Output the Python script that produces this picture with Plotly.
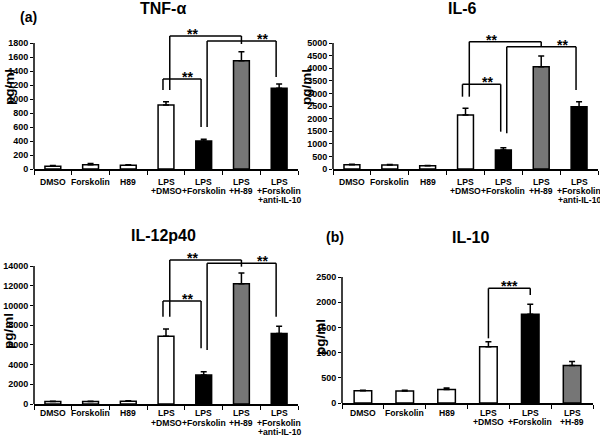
import plotly.graph_objects as go

W, H = 600, 438

# ---------------- data ----------------
cats_a = ["DMSO", "Forskolin", "H89", "LPS<br>+DMSO", "LPS<br>+Forskolin", "LPS<br>+H-89",
          "LPS<br>+Forskolin<br>+anti-IL-10"]
cats_b = ["DMSO", "Forskolin", "H89", "LPS<br>+DMSO", "LPS<br>+Forskolin", "LPS<br>+H-89"]

tnf_vals = [40, 60, 55, 914, 400, 1548, 1153]
tnf_err = [10, 20, 5, 48, 24, 128, 61]
il6_vals = [170, 160, 130, 2143, 754, 4061, 2474]
il6_err = [20, 15, 10, 264, 93, 423, 198]
il12_vals = [250, 250, 280, 6880, 2935, 12210, 7150]
il12_err = [30, 30, 60, 740, 335, 1080, 750]
il10_vals = [243, 240, 270, 1118, 1763, 743]
il10_err = [12, 12, 28, 99, 197, 79]

colors_a = ["white", "white", "white", "white", "black", "#767676", "black"]
colors_b = ["white", "white", "white", "white", "black", "#767676"]

titles = ["TNF-α", "IL-6", "IL-12p40", "IL-10"]
tick_max = [1800, 5000, 14000, 2500]
tick_step = [200, 500, 2000, 500]

# brackets: (left cat, left offset, left bottom, top, right cat, right offset, right bottom, label, label pos)
br_tnf = [(3, 0.10, 1129, 1900, 5, 0.0, 1786, "**", 3.69),
          (4, 0.09, 600, 1829, 6, -0.08, 1314, "**", 5.55),
          (3, -0.08, 1129, 1286, 4, -0.07, 600, "**", 3.58)]
br_il6 = [(3, 0.10, 2869, 5053, 5, 0.0, 4854, "**", 3.69),
          (4, 0.09, 1415, 4854, 6, -0.08, 3135, "**", 5.55),
          (3, -0.08, 2869, 3360, 4, -0.07, 1481, "**", 3.57)]
br_il12 = [(3, 0.10, 8858, 14609, 5, 0.0, 13930, "**", 3.69),
           (4, 0.09, 5478, 14271, 6, -0.08, 8858, "**", 5.55),
           (3, -0.08, 8858, 10449, 4, -0.07, 5650, "**", 3.57)]
br_il10 = [(3, 0.0, 1283, 2275, 4, 0.0, 2143, "***", 3.5)]

# ---------------- layout geometry (pixels) ----------------
# x_left, x_right, y_zero_px, y_maxtick_px, y_top_px, label line y positions
geom = [(34, 298, 169, 43, 26, (182, 191, 200)),
        (333, 598, 169, 43, 26, (182, 191, 200)),
        (34, 298, 404, 266, 250, (413, 422.5, 432)),
        (342, 593, 403, 277, 272, (413, 422, 431))]

panels = [(cats_a, tnf_vals, tnf_err, colors_a, br_tnf),
          (cats_a, il6_vals, il6_err, colors_a, br_il6),
          (cats_a, il12_vals, il12_err, colors_a, br_il12),
          (cats_b, il10_vals, il10_err, colors_b, br_il10)]

FONT = "Liberation Sans, Arial, sans-serif"
fig = go.Figure()
shapes, annos = [], []

for i, ((cats, vals, err, cols, brs), (xl, xr, y0, yt, ytop, lines_y)) in enumerate(zip(panels, geom)):
    n = i + 1
    xa = "x" if n == 1 else f"x{n}"
    ya = "y" if n == 1 else f"y{n}"
    fig.add_trace(go.Bar(
        x=cats, y=vals, xaxis=xa, yaxis=ya, width=0.42,
        marker=dict(color=cols, line=dict(color="black", width=1.5)),
        error_y=dict(type="data", array=err, arrayminus=[0] * len(err), symmetric=False,
                     color="black", thickness=1.5, width=3),
        showlegend=False))
    ymax = tick_max[i]
    rmax = ymax * (y0 - ytop) / (y0 - yt)
    xkey = "xaxis" if n == 1 else f"xaxis{n}"
    ykey = "yaxis" if n == 1 else f"yaxis{n}"
    fig.update_layout(**{
        xkey: dict(domain=[xl / W, xr / W], anchor=ya, type="category", automargin=False,
                   categoryorder="array", categoryarray=cats,
                   range=[-0.5, len(cats) - 0.5], showticklabels=False,
                   showline=True, linecolor="black", linewidth=1.5,
                   ticks="outside", tickson="boundaries", ticklen=4, tickcolor="black",
                   tickwidth=1, showgrid=False),
        ykey: dict(domain=[1 - y0 / H, 1 - ytop / H], anchor=xa, automargin=False,
                   range=[0, rmax], showline=False, showgrid=False, zeroline=False,
                   tickvals=list(range(0, ymax + 1, tick_step[i])), tickformat="d",
                   ticks="outside", ticklen=3, tickcolor="black", tickwidth=1,
                   tickfont=dict(family=FONT, size=9, color="black", weight="bold")),
    })
    # category labels, one text per line
    for ci, c in enumerate(cats):
        for li, part in enumerate(c.split("<br>")):
            annos.append(dict(xref=xa, yref="paper", x=ci, y=1 - lines_y[li] / H, text=part,
                              showarrow=False, xanchor="center", yanchor="middle",
                              font=dict(family=FONT, size=8.6, color="black", weight="bold")))
    # y-axis line only up to max tick
    shapes.append(dict(type="line", xref=f"{xa} domain", yref=ya, x0=0, x1=0, y0=0, y1=ymax,
                       line=dict(color="black", width=1.5)))
    # significance brackets
    for (lc, lo, lb, top, rc, ro, rb, lab, lx) in brs:
        xa0, xa1 = lc + lo, rc + ro
        for (sx0, sy0, sx1, sy1) in [(xa0, lb, xa0, top), (xa0, top, xa1, top), (xa1, top, xa1, rb)]:
            shapes.append(dict(type="line", xref=xa, yref=ya, x0=sx0, y0=sy0, x1=sx1, y1=sy1,
                               line=dict(color="black", width=1.5)))
        annos.append(dict(xref=xa, yref=ya, x=lx, y=top, text=lab, showarrow=False,
                          yanchor="middle", yshift=2,
                          font=dict(family=FONT, size=14, color="black", weight="bold")))

def pa(x, y, text, size, angle=0):
    annos.append(dict(xref="paper", yref="paper", x=x / W, y=1 - y / H, text=text,
                      showarrow=False, xanchor="center", yanchor="middle", textangle=angle,
                      font=dict(family=FONT, size=size, color="black", weight="bold")))

pa(163, 9, titles[0], 16)
pa(463, 9, titles[1], 16)
pa(163, 235, titles[2], 16)
pa(470, 237, titles[3], 16)
pa(28, 17, "(a)", 14)
pa(335, 237, "(b)", 14)
pa(9, 87, "pg/ml", 13.5, -90)
pa(306, 87, "pg/ml", 13.5, -90)
pa(8, 331, "pg/ml", 13.5, -90)
pa(320, 337, "pg/ml", 13.5, -90)

fig.update_layout(width=W, height=H, margin=dict(l=0, r=0, t=0, b=0, autoexpand=False),
                  plot_bgcolor="white", paper_bgcolor="white",
                  shapes=shapes, annotations=annos, bargap=0.5)
fig.write_html("out.html", config={"displayModeBar": False},
               post_script="document.body.style.margin='0';document.body.style.padding='0';")
